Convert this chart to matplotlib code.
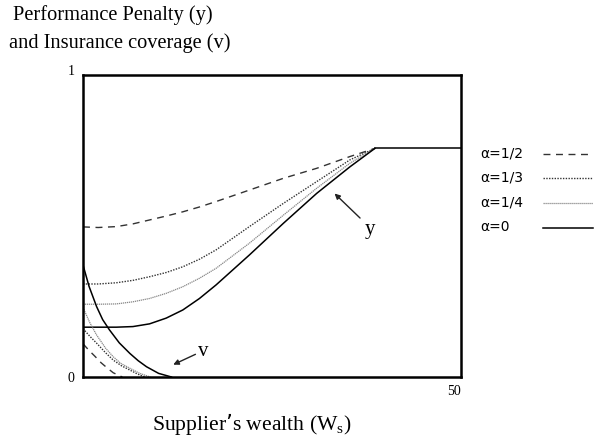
import matplotlib.pyplot as plt

# wealth grid
ws = [0, 2, 4.4, 6.6, 8.8, 11, 13.2, 15.4, 17.6, 22, 26.5, 30.9, 35.3, 38.6]
y_half = [0.497, 0.495, 0.498, 0.507, 0.520, 0.533, 0.547, 0.563, 0.581, 0.619, 0.658, 0.691, 0.730, 0.757]
y_third = [0.308, 0.308, 0.312, 0.320, 0.332, 0.346, 0.365, 0.390, 0.421, 0.498, 0.575, 0.647, 0.719, 0.757]
y_quarter = [0.241, 0.241, 0.242, 0.249, 0.260, 0.277, 0.299, 0.327, 0.360, 0.443, 0.536, 0.625, 0.708, 0.757]
y_zero = [0.165, 0.165, 0.165, 0.167, 0.176, 0.195, 0.222, 0.260, 0.305, 0.404, 0.509, 0.608, 0.696, 0.757]
flat_x = [38.6, 50]
flat_y = [0.757, 0.757]

# insurance coverage
v_half_x = [0, 0.8, 1.6, 2.4, 3.2, 4.0, 5.2]
v_half = [0.11, 0.088, 0.068, 0.047, 0.030, 0.014, 0]
v_third_x = [0, 0.9, 1.8, 3.0, 4.0, 5.1, 6.2, 7.2, 8.2]
v_third = [0.16, 0.135, 0.112, 0.080, 0.056, 0.037, 0.023, 0.010, 0]
v_quarter_x = [0, 0.9, 1.8, 3.0, 4.0, 5.0, 6.2, 7.5, 8.9]
v_quarter = [0.23, 0.18, 0.139, 0.095, 0.067, 0.045, 0.029, 0.012, 0]
v_zero_x = [0, 0.8, 1.8, 2.6, 3.5, 4.8, 6.2, 7.3, 8.4, 10, 11.7]
v_zero = [0.371, 0.30, 0.233, 0.19, 0.156, 0.113, 0.078, 0.054, 0.034, 0.012, 0]

labels = ['α=1/2', 'α=1/3', 'α=1/4', 'α=0']

serif = 'Liberation Serif'

fig = plt.figure(figsize=(5.95, 4.36), dpi=100)
ax = fig.add_axes([0.1395, 0.1353, 0.6355, 0.6927])

st_half = dict(color='#333333', lw=1.0, ls=(0, (5, 4)))
st_third = dict(color='#333333', lw=1.0, ls=(0, (1, 1)))
st_quarter = dict(color='#888888', lw=0.9, ls=(0, (1, 0.6)))
st_zero = dict(color='black', lw=1.1, ls='-')

h1, = ax.plot(ws, y_half, **st_half)
h2, = ax.plot(ws, y_third, **st_third)
h3, = ax.plot(ws, y_quarter, **st_quarter)
h4, = ax.plot(ws, y_zero, **st_zero)
ax.plot(flat_x, flat_y, color='black', lw=1.1)

ax.plot(v_half_x, v_half, **st_half)
ax.plot(v_third_x, v_third, **st_third)
ax.plot(v_quarter_x, v_quarter, **st_quarter)
ax.plot(v_zero_x, v_zero, **st_zero)

ax.set_xlim(0, 50)
ax.set_ylim(0, 1)
for s in ax.spines.values():
    s.set_linewidth(1.8)

ax.set_xticks([50], ['50'])
ax.set_yticks([0, 1], ['0', '1'])
ax.tick_params(length=0, labelsize=10, pad=6)
for lbl in ax.get_xticklabels() + ax.get_yticklabels():
    lbl.set_fontfamily(serif)
for lbl in ax.get_xticklabels():
    lbl.set_ha('right')
ax.get_yticklabels()[1].set_va('baseline')

ax.annotate('', xy=(33.0, 0.614), xytext=(36.9, 0.520),
            arrowprops=dict(arrowstyle='-|>', color='#222222', lw=1.0, mutation_scale=8))
ax.text(38.0, 0.49, 'y', fontsize=15, family=serif, ha='center', va='center')
ax.annotate('', xy=(11.6, 0.037), xytext=(15.2, 0.079),
            arrowprops=dict(arrowstyle='-|>', color='#222222', lw=1.0, mutation_scale=8))
ax.text(15.9, 0.086, 'v', fontsize=15, family=serif, ha='center', va='center')

fig.text(0.19, 0.965, 'Performance Penalty (y)', fontsize=14.7, family=serif, ha='center', va='center')
fig.text(0.202, 0.902, 'and Insurance coverage (v)', fontsize=14.7, family=serif, ha='center', va='center')
fig.text(0.423, 0.028, 'Supplier’s wealth (W$_\\mathregular{s}$)', fontsize=15.6, family=serif,
         ha='center', va='center')

# legend: sample lines on the right, labels on the left
ax.legend([h1, h2, h3, h4], [''] * 4, loc='upper left', bbox_to_anchor=(0.9126, 0.662),
          bbox_transform=fig.transFigure, frameon=False, handlelength=3.6, handletextpad=0,
          labelspacing=0.78, fontsize=10, borderpad=0, borderaxespad=0)
rows_y = [0.649, 0.5924, 0.5359, 0.4794]
for lab, yy in zip(labels, rows_y):
    fig.text(0.8067, yy, lab, fontsize=10, ha='left', va='center')

fig.savefig('out.png', dpi=100)
